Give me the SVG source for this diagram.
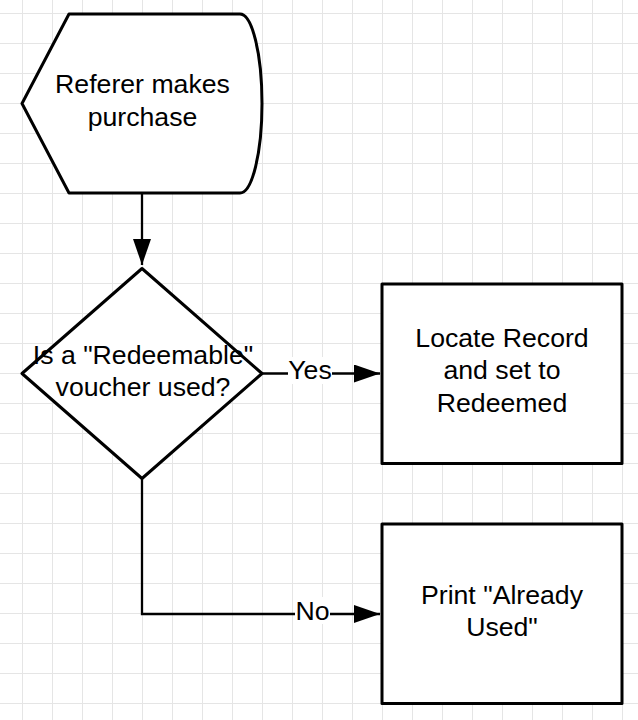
<svg xmlns="http://www.w3.org/2000/svg" width="638" height="720" viewBox="0 0 638 720">
<defs>
<pattern id="grid" x="0" y="0" width="30" height="30" patternUnits="userSpaceOnUse" patternTransform="translate(22 13)">
<path d="M0.5,0 V30 M0,0.5 H30" fill="none" stroke="#e5e5e5" stroke-width="1"/>
</pattern>
<marker id="arrow" viewBox="0 0 26 18" refX="26" refY="9" markerWidth="26" markerHeight="18" markerUnits="userSpaceOnUse" orient="auto">
<path d="M0,0 L26,9 L0,18 Z" fill="#000"/>
</marker>
</defs>
<style>
.shape{fill:#fff;stroke:#000;stroke-width:3;stroke-linejoin:round}
.conn{fill:none;stroke:#000;stroke-width:2.3}
.t{font-family:"Liberation Sans",Arial,sans-serif;font-size:26.67px;fill:#000;text-anchor:middle}
.lbl{fill:#fff}
</style>
<rect x="0" y="0" width="638" height="720" fill="#fff"/>
<rect x="0" y="0" width="638" height="720" fill="url(#grid)"/>
<g id="connectors">
<path class="conn" d="M142,194 V265" marker-end="url(#arrow)"/>
<path class="conn" d="M262,373.5 H380" marker-end="url(#arrow)"/>
<path class="conn" d="M142,478 V614 H380" marker-end="url(#arrow)"/>
<rect class="lbl" x="288" y="357" width="44" height="27"/>
<text class="t" x="310" y="379">Yes</text>
<rect class="lbl" x="295" y="597" width="35" height="27"/>
<text class="t" x="312.5" y="619.5">No</text>
</g>
<g id="start">
<path class="shape" d="M69,14 H240 A22,89.5 0 0 1 240,193 H69 L22,103.5 Z"/>
<text class="t" x="142.5" y="93">Referer makes</text>
<text class="t" x="142.5" y="125.5">purchase</text>
</g>
<g id="decision">
<path class="shape" d="M142,268.5 L262,373.5 L142,478.5 L22,373.5 Z"/>
<text class="t" x="143" y="363.5">Is a "Redeemable"</text>
<text class="t" x="143" y="396">voucher used?</text>
</g>
<g id="redeem">
<rect class="shape" x="382" y="284" width="240" height="179.5"/>
<text class="t" x="502" y="347">Locate Record</text>
<text class="t" x="502" y="379">and set to</text>
<text class="t" x="502" y="411.5">Redeemed</text>
</g>
<g id="used">
<rect class="shape" x="382" y="524" width="240" height="179.5"/>
<text class="t" x="502" y="604">Print "Already</text>
<text class="t" x="502" y="636">Used"</text>
</g>
</svg>
